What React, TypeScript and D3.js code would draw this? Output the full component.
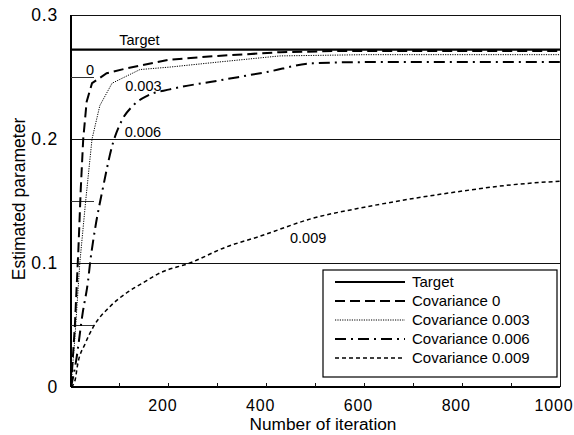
import React from 'react';
import * as d3 from 'd3';

// values
const TARGET = 0.272;

const cov0Iter = [0, 8, 15, 20, 25, 32, 43, 73, 114, 202, 300, 427, 550, 1000];
const cov0Val = [0, 0.05, 0.11, 0.16, 0.2, 0.23, 0.245, 0.253, 0.257, 0.264, 0.267, 0.27, 0.271, 0.271];

const cov003Iter = [0, 8, 18, 30, 43, 59, 84, 141, 202, 300, 427, 600, 1000];
const cov003Val = [0, 0.04, 0.1, 0.15, 0.2, 0.227, 0.245, 0.256, 0.258, 0.262, 0.267, 0.268, 0.268];

const cov006Iter = [0, 10, 24, 35, 39, 49, 65, 86, 104, 127, 157, 202, 300, 400, 494, 600, 1000];
const cov006Val = [0, 0.02, 0.06, 0.086, 0.1, 0.127, 0.16, 0.197, 0.215, 0.227, 0.235, 0.24, 0.247, 0.254, 0.261, 0.262, 0.262];

const cov009Iter = [0, 8, 14, 29, 45, 80, 114, 147, 182, 243, 318, 382, 494, 600, 700, 800, 900, 1000];
const cov009Val = [0, 0.005, 0.019, 0.035, 0.048, 0.065, 0.076, 0.084, 0.092, 0.1, 0.113, 0.121, 0.136, 0.145, 0.152, 0.158, 0.163, 0.166];

const xTicks = [200, 400, 600, 800, 1000];
const xMinorTicks = [100, 200, 300, 400, 500, 600, 700, 800, 900];
const yTicks = [0, 0.1, 0.2, 0.3];
const yStubs = [0.05, 0.15, 0.25];

const curveLabels = [
  { text: 'Target', it: 140, v: 0.2755 },
  { text: '0', it: 39, v: 0.252 },
  { text: '0.003', it: 148, v: 0.239 },
  { text: '0.006', it: 147, v: 0.202 },
  { text: '0.009', it: 485, v: 0.116 },
];

const legendNames = ['Target', 'Covariance 0', 'Covariance 0.003', 'Covariance 0.006', 'Covariance 0.009'];

const W = 574;
const H = 435;
const FONT = '"Liberation Sans", Arial, sans-serif';

export default function App() {
  const x = d3.scaleLinear().domain([0, 1000]).range([71, 560]);
  const y = d3.scaleLinear().domain([0, 0.3]).range([387, 15]);

  const zip = (a: number[], b: number[]) => a.map((v, i) => [v, b[i]] as [number, number]);

  const series = [
    { pts: zip([0, 1000], [TARGET, TARGET]), dash: 'none', w: 2.2, curve: d3.curveLinear },
    { pts: zip(cov0Iter, cov0Val), dash: '10,5', w: 2, curve: d3.curveLinear },
    { pts: zip(cov003Iter, cov003Val), dash: '1.2,1.2', w: 1, curve: d3.curveLinear },
    { pts: zip(cov006Iter, cov006Val), dash: '11,5,2,5', w: 2, curve: d3.curveMonotoneX },
    { pts: zip(cov009Iter, cov009Val), dash: '4,3', w: 1.5, curve: d3.curveMonotoneX },
  ];

  const pathFor = (s: typeof series[number]) =>
    d3.line<[number, number]>().x(d => x(d[0])).y(d => y(d[1])).curve(s.curve)(s.pts) || '';

  // legend box
  const lg = { x: 323, y: 270, w: 234, h: 107 };
  const rowY = (i: number) => lg.y + 12 + i * 19;

  return (
    <div style={{ position: 'absolute', left: 0, top: 0 }}>
      <svg width={W} height={H} style={{ display: 'block', background: '#fff' }} fontFamily={FONT}>
        {/* gridlines + frame */}
        <g shapeRendering="crispEdges">
          {yTicks.filter(t => t > 0).map(t => (
            <line key={t} x1={x(0)} x2={x(1000)} y1={y(t)} y2={y(t)} stroke="#111" strokeWidth={1} />
          ))}
          <line x1={x(1000)} x2={x(1000)} y1={y(0.3)} y2={y(0)} stroke="#111" strokeWidth={1} />
          <line x1={x(0)} x2={x(1000)} y1={y(0)} y2={y(0)} stroke="#000" strokeWidth={2} />
          <line x1={x(0)} x2={x(0)} y1={y(0.3)} y2={y(0)} stroke="#000" strokeWidth={2} />
          {yStubs.map(t => (
            <line key={t} x1={x(0)} x2={x(48)} y1={y(t)} y2={y(t)} stroke="#333" strokeWidth={1} />
          ))}
          {xMinorTicks.map(t => (
            <line key={t} x1={x(t)} x2={x(t)} y1={y(0)} y2={y(0) - 4} stroke="#111" strokeWidth={1} />
          ))}
        </g>

        {/* tick labels */}
        {xTicks.map(t => (
          <text key={t} x={x(t) - 6} y={411} textAnchor="middle" fontSize={16} letterSpacing={0.8}>{t}</text>
        ))}
        {yTicks.map(t => (
          <text key={t} x={58} y={y(t) + 6} textAnchor="end" fontSize={17.5} letterSpacing={0.8}>{t === 0 ? '0' : t.toFixed(1)}</text>
        ))}

        {/* axis titles */}
        <text x={323} y={430} textAnchor="middle" fontSize={17.3}>Number of iteration</text>
        <text transform={`translate(25,199) rotate(-90)`} textAnchor="middle" fontSize={17.5}>Estimated parameter</text>

        {/* curves */}
        {series.map((s, i) => (
          <path key={i} d={pathFor(s)} fill="none" stroke="#000"
            strokeWidth={s.w} strokeDasharray={s.dash} />
        ))}

        {/* curve labels */}
        {curveLabels.map(l => (
          <text key={l.text} x={x(l.it)} y={y(l.v)} textAnchor="middle" fontSize={14.5}>{l.text}</text>
        ))}

        {/* legend */}
        <rect x={lg.x} y={lg.y} width={lg.w} height={lg.h} fill="#fff" stroke="#000" strokeWidth={1.2} />
        {series.map((s, i) => (
          <g key={i}>
            <line x1={335} x2={405} y1={rowY(i)} y2={rowY(i)} stroke="#000"
              strokeWidth={s.w} strokeDasharray={s.dash} />
            <text x={412} y={rowY(i) + 5} fontSize={15}>{legendNames[i]}</text>
          </g>
        ))}
      </svg>
    </div>
  );
}
